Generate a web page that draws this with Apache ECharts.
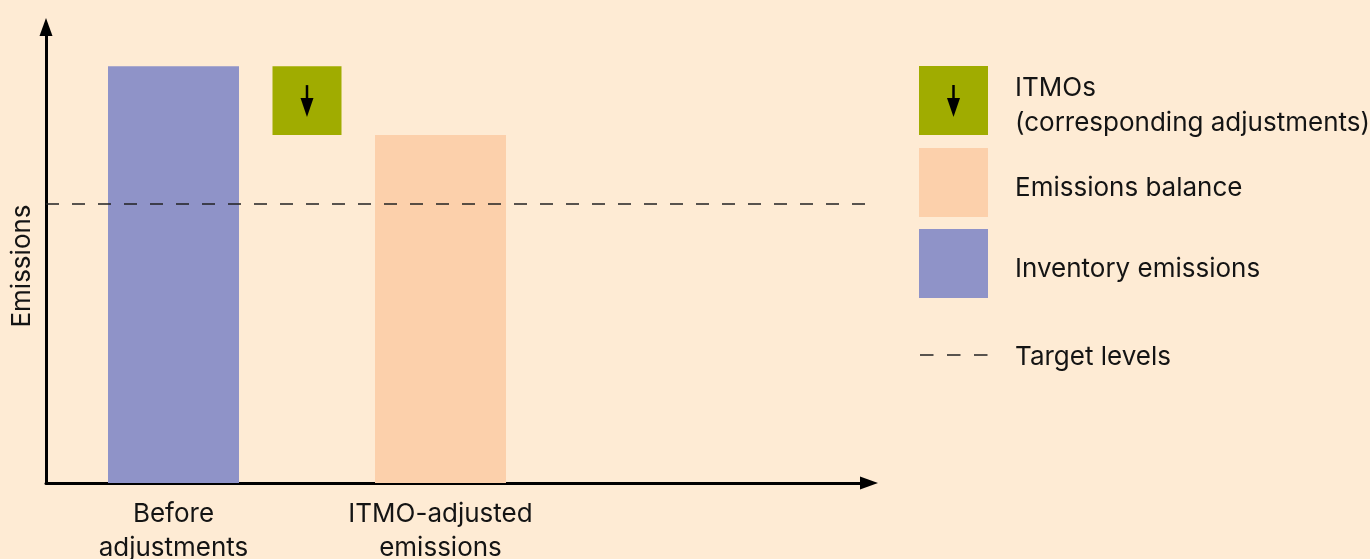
<!DOCTYPE html>
<html>
<head>
<meta charset="utf-8">
<script src="https://cdn.jsdelivr.net/npm/echarts@6/dist/echarts.min.js"></script>
<style>
  html, body { margin: 0; padding: 0; background: #FEEBD4; }
  #chart { width: 1370px; height: 559px; }
</style>
</head>
<body>
<div id="chart"></div>
<script>
// chart values (emissions, arbitrary units: before adjustments = 100)
const categories = ['Before\nadjustments', '', 'ITMO-adjusted\nemissions']
const inventoryEmissions = [100, null, null]
const itmoBase = [null, 83.5, null]
const itmoReduction = [null, 16.5, null]
const emissionsBalance = [null, null, 83.5]
const targetLevel = 67
const yMax = 109.4

const FONT = 'Inter'
const TEXT = '#141414'
const GREEN = '#A0AC00'
const PEACH = '#FCD0AB'
const BLUE = '#8F93C8'

// [categoryIndex, low, high]
function toRanges(values, bases) {
  const out = []
  values.forEach((v, i) => {
    if (v == null) return
    const base = bases ? bases[i] : 0
    out.push([i, base, base + v])
  })
  return out
}

function blockRenderer(widthRatio, color, withArrow) {
  return function(params, api) {
    const top = api.coord([api.value(0), api.value(2)])
    const bottom = api.coord([api.value(0), api.value(1)])
    const w = api.size([1, 0])[0] * widthRatio
    const h = bottom[1] - top[1]
    const children = [{
      type: 'rect',
      shape: { x: top[0] - w / 2, y: top[1], width: w, height: h },
      style: { fill: color }
    }]
    if (withArrow) {
      const cx = top[0]
      const s = h / 69
      children.push({
        type: 'line',
        shape: { x1: cx, y1: top[1] + 19 * s, x2: cx, y2: top[1] + 35 * s },
        style: { stroke: '#000', lineWidth: 2.5 }
      })
      children.push({
        type: 'polygon',
        shape: { points: [[cx - 6.5 * s, top[1] + 32 * s], [cx + 6.5 * s, top[1] + 32 * s], [cx, top[1] + 51 * s]] },
        style: { fill: '#000' }
      })
    }
    return { type: 'group', children }
  }
}

// legend icons: 69px square on an 80px tall canvas so the label sits a bit lower
function svgIcon(body, h) {
  const svg = "<svg xmlns='http://www.w3.org/2000/svg' width='69' height='" + h + "'>" + body + '</svg>'
  return 'image://data:image/svg+xml;charset=utf-8,' + encodeURIComponent(svg)
}
const itmoIcon = svgIcon(
  "<rect width='69' height='69' fill='" + GREEN + "'/>" +
  "<line x1='34.5' y1='19' x2='34.5' y2='35' stroke='#000' stroke-width='2.5'/>" +
  "<polygon points='28,32 41,32 34.5,51' fill='#000'/>", 80)
const peachIcon = svgIcon("<rect width='69' height='69' fill='" + PEACH + "'/>", 80)
const blueIcon = svgIcon("<rect width='69' height='69' fill='" + BLUE + "'/>", 80)
const dashIcon = svgIcon(
  "<line x1='1' y1='32.5' x2='69' y2='32.5' stroke='#222' stroke-width='1.5' stroke-dasharray='13.5 13.5'/>", 69)

const legendText = { fontFamily: FONT, fontSize: 26, lineHeight: 35, color: TEXT, padding: [0, 0, 0, 22] }
const legendBase = {
  orient: 'vertical',
  left: 919,
  padding: 0,
  itemWidth: 69,
  itemHeight: 80,
  itemGap: 1,
  selectedMode: false,
  textStyle: legendText
}

const chart = echarts.init(document.getElementById('chart'))
chart.setOption({
  backgroundColor: '#FEEBD4',
  animation: false,
  textStyle: { fontFamily: FONT },
  grid: [
    { left: 46, right: 501, top: 27, bottom: 76, outerBoundsMode: 'none', containLabel: false },
    { left: 106.75, right: 862.75, top: 27, bottom: 76, outerBoundsMode: 'none', containLabel: false }
  ],
  legend: [
    Object.assign({}, legendBase, {
      top: 66,
      formatter: () => 'ITMOs\n(corresponding adjustments)',
      data: [{ name: 'ITMOs', icon: itmoIcon }]
    }),
    Object.assign({}, legendBase, {
      top: 148,
      data: [
        { name: 'Emissions balance', icon: peachIcon },
        { name: 'Inventory emissions', icon: blueIcon }
      ]
    }),
    Object.assign({}, legendBase, {
      top: 322.5,
      itemHeight: 69,
      data: [{ name: 'Target levels', icon: dashIcon }]
    })
  ],
  xAxis: [{
    type: 'value',
    gridIndex: 0,
    min: 0,
    max: 1,
    axisLine: {
      show: true,
      symbol: ['none', 'triangle'],
      symbolSize: [13, 18],
      lineStyle: { color: '#000', width: 3 }
    },
    axisTick: { show: false },
    axisLabel: { show: false },
    splitLine: { show: false }
  }, {
    type: 'category',
    gridIndex: 1,
    data: categories,
    axisLine: { show: false },
    axisTick: { show: false },
    axisLabel: {
      interval: 0,
      margin: 14,
      fontFamily: FONT,
      fontSize: 26,
      lineHeight: 34,
      color: TEXT
    }
  }],
  yAxis: [{
    type: 'value',
    gridIndex: 0,
    min: 0,
    max: yMax,
    name: 'Emissions',
    nameLocation: 'middle',
    nameGap: 11,
    nameTextStyle: {
      fontFamily: FONT, fontSize: 26, color: TEXT, padding: [0, 22, 0, 0]
    },
    axisLine: {
      show: true,
      symbol: ['none', 'triangle'],
      symbolSize: [13, 18],
      lineStyle: { color: '#000', width: 3 }
    },
    axisTick: { show: false },
    axisLabel: { show: false },
    splitLine: { show: false }
  }, {
    type: 'value',
    gridIndex: 1,
    min: 0,
    max: yMax,
    show: false
  }],
  series: [{
    name: 'Target levels',
    type: 'line',
    xAxisIndex: 0,
    yAxisIndex: 0,
    data: [],
    itemStyle: { color: '#222' },
    markLine: {
      silent: true,
      symbol: 'none',
      label: { show: false },
      lineStyle: { color: '#222', width: 1.5, type: [13, 13] },
      data: [{ yAxis: targetLevel }]
    }
  }, {
    name: 'Inventory emissions',
    type: 'custom',
    xAxisIndex: 1,
    yAxisIndex: 1,
    itemStyle: { color: BLUE },
    encode: { x: 0, y: [1, 2] },
    renderItem: blockRenderer(131 / 133.5, BLUE, false),
    data: toRanges(inventoryEmissions)
  }, {
    name: 'Emissions balance',
    type: 'custom',
    xAxisIndex: 1,
    yAxisIndex: 1,
    itemStyle: { color: PEACH },
    encode: { x: 0, y: [1, 2] },
    renderItem: blockRenderer(131 / 133.5, PEACH, false),
    data: toRanges(emissionsBalance)
  }, {
    name: 'ITMOs',
    type: 'custom',
    xAxisIndex: 1,
    yAxisIndex: 1,
    itemStyle: { color: GREEN },
    encode: { x: 0, y: [1, 2] },
    renderItem: blockRenderer(69 / 133.5, GREEN, true),
    data: toRanges(itmoReduction, itmoBase)
  }]
})
</script>
</body>
</html>
